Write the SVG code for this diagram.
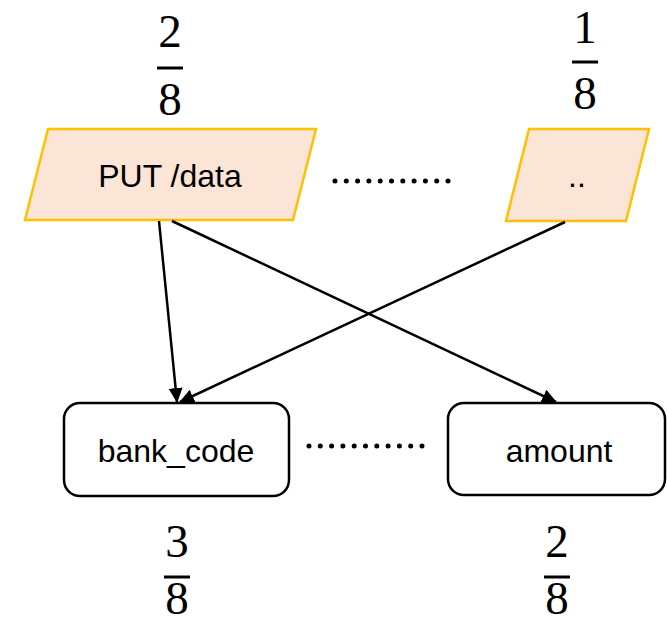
<svg xmlns="http://www.w3.org/2000/svg" width="667" height="629" viewBox="0 0 667 629">
  <style>
    .io { fill: #FBE5D6; stroke: #FFC000; stroke-width: 2.5; }
    .box { fill: #FFFFFF; stroke: #000000; stroke-width: 2.5; }
    .label { font-family: "Liberation Sans", Arial, sans-serif; font-size: 32px; fill: #000000; text-anchor: middle; }
    .num { font-family: "Liberation Serif", "DejaVu Serif", serif; font-size: 47px; fill: #000000; text-anchor: middle; }
    .bar { stroke: #000000; stroke-width: 3; }
    .dots { stroke: #000000; stroke-width: 5; stroke-linecap: round; stroke-dasharray: 0 11.3; fill: none; }
    .edge { stroke: #000000; stroke-width: 2.5; fill: none; marker-end: url(#arrow); }
  </style>
  <defs>
    <marker id="arrow" markerUnits="userSpaceOnUse" markerWidth="16" markerHeight="14" refX="14" refY="7" orient="auto">
      <path d="M0,0 L15,7 L0,14 Z" fill="#000000"/>
    </marker>
  </defs>

  <rect width="667" height="629" fill="#FFFFFF"/>

  <!-- request nodes -->
  <g id="put-data">
    <polygon class="io" points="48,129 316,129 293,220 25,220"/>
    <text class="label" x="170" y="187">PUT /data</text>
    <text class="num" x="170" y="47">2</text>
    <line class="bar" x1="157" y1="68" x2="183" y2="68"/>
    <text class="num" x="170" y="115">8</text>
  </g>

  <g id="other-request">
    <polygon class="io" points="529,129 649,129 626,221 506,221"/>
    <text class="label" x="577" y="187">..</text>
    <text class="num" x="585" y="43">1</text>
    <line class="bar" x1="572" y1="62" x2="598" y2="62"/>
    <text class="num" x="585" y="109">8</text>
  </g>

  <line id="top-ellipsis" class="dots" x1="335" y1="181" x2="449" y2="181"/>

  <!-- field nodes -->
  <g id="bank-code">
    <rect class="box" x="64" y="403" width="225" height="93" rx="16" ry="16"/>
    <text class="label" x="176" y="462">bank_code</text>
    <text class="num" x="177" y="557">3</text>
    <line class="bar" x1="164" y1="577" x2="190" y2="577"/>
    <text class="num" x="177" y="614">8</text>
  </g>

  <g id="amount">
    <rect class="box" x="448" y="403" width="217" height="92" rx="16" ry="16"/>
    <text class="label" x="559" y="462">amount</text>
    <text class="num" x="557" y="557">2</text>
    <line class="bar" x1="544" y1="577" x2="570" y2="577"/>
    <text class="num" x="557" y="614">8</text>
  </g>

  <line id="bottom-ellipsis" class="dots" x1="309" y1="446" x2="423" y2="446"/>

  <!-- connectors -->
  <g id="edges">
    <line class="edge" x1="159" y1="221" x2="177" y2="402"/>
    <line class="edge" x1="172" y1="221" x2="556" y2="402"/>
    <line class="edge" x1="565" y1="222" x2="180" y2="402"/>
  </g>
</svg>
